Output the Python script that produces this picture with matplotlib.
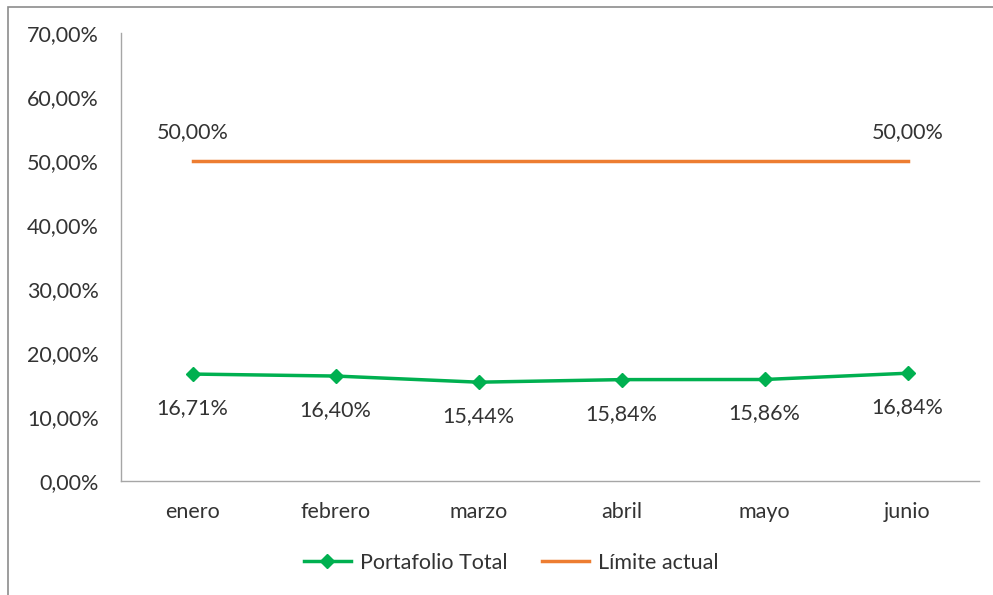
import matplotlib
matplotlib.use("Agg")
import matplotlib.pyplot as plt
from matplotlib.patches import Rectangle

months = ["enero", "febrero", "marzo", "abril", "mayo", "junio"]
portafolio = [16.71, 16.40, 15.44, 15.84, 15.86, 16.84]
limite = [50.0, 50.0, 50.0, 50.0, 50.0, 50.0]
yticks = [0, 10, 20, 30, 40, 50, 60, 70]

def fmt(v):
    return f"{v:.2f}".replace(".", ",") + "%"

plt.rcParams['font.family'] = ['Lato', 'DejaVu Sans']
txt = "#333333"
green = "#00B050"
orange = "#ED7D31"

W, H = 993, 595
fig = plt.figure(figsize=(W / 100, H / 100), dpi=100)
fig.patches.append(Rectangle((8 / W, -10 / H), (W + 20) / W, (H + 10 - 6.5) / H,
                             transform=fig.transFigure, fill=False,
                             edgecolor="#8c8c8c", linewidth=1.2))
ax = fig.add_axes([121 / W, 1 - 481 / H, (979 - 121) / W, (481 - 33) / H])

x = list(range(len(months)))
ax.plot(x, portafolio, color=green, linewidth=2.5, marker="D", markersize=7,
        label="Portafolio Total", zorder=3)
ax.plot(x, limite, color=orange, linewidth=2.5, label="Límite actual", zorder=2)

for i, v in enumerate(portafolio):
    ax.annotate(fmt(v), (i, v), xytext=(0, -24.5), textcoords="offset points",
                ha="center", va="center", fontsize=15.5, color=txt)
for i in (0, len(months) - 1):
    ax.annotate(fmt(limite[i]), (i, limite[i]), xytext=(0, 21),
                textcoords="offset points", ha="center", va="center",
                fontsize=15.5, color=txt)

ax.set_xlim(-0.5, len(months) - 0.5)
ax.set_ylim(0, 70)
ax.set_yticks(yticks)
ax.set_yticklabels([fmt(t) for t in yticks])
ax.set_xticks(x)
ax.set_xticklabels(months)
ax.tick_params(axis="both", length=0, labelsize=15.5, labelcolor=txt)
ax.tick_params(axis="y", pad=16)
ax.tick_params(axis="x", pad=15)
for s in ("top", "right"):
    ax.spines[s].set_visible(False)
for s in ("left", "bottom"):
    ax.spines[s].set_color("#a6a6a6")
    ax.spines[s].set_linewidth(1.0)

leg = fig.legend(loc="center", bbox_to_anchor=(511 / W, 1 - 563 / H), ncol=2,
                 frameon=False, fontsize=15.5, handlelength=2.2, columnspacing=1.6,
                 handletextpad=0.4)
for t in leg.get_texts():
    t.set_color(txt)

fig.savefig("out.png", dpi=100)
